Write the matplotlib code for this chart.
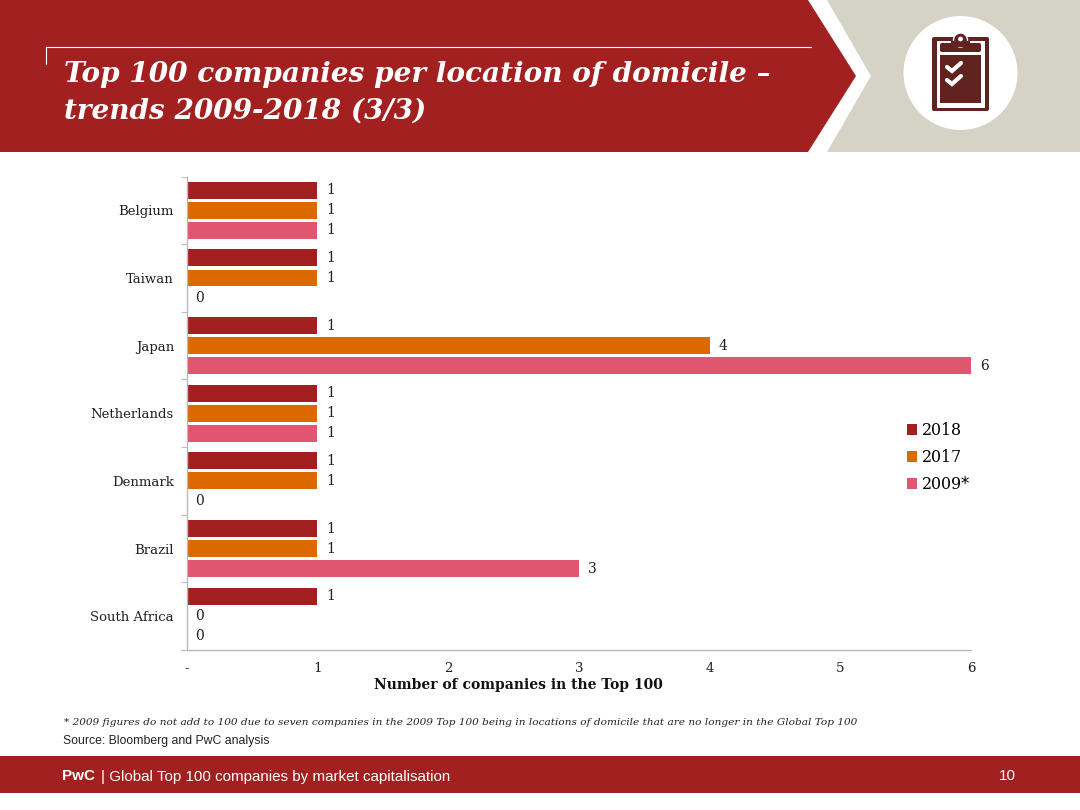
import numpy as np
import matplotlib
matplotlib.use('Agg')
import matplotlib.pyplot as plt
from matplotlib.patches import Polygon, Rectangle, Circle, FancyBboxPatch

# chart values
countries = ['Belgium', 'Taiwan', 'Japan', 'Netherlands', 'Denmark', 'Brazil', 'South Africa']
top100_2018 = [1, 1, 1, 1, 1, 1, 1]
top100_2017 = [1, 1, 4, 1, 1, 1, 0]
top100_2009 = [1, 0, 6, 1, 0, 3, 0]
series_names = ['2018', '2017', '2009*']
xtick_labels = ['-', '1', '2', '3', '4', '5', '6']

title_lines = ['Top 100 companies per location of domicile –', 'trends 2009-2018 (3/3)']
footnote = ('* 2009 figures do not add to 100 due to seven companies in the 2009 Top 100 '
            'being in locations of domicile that are no longer in the Global Top 100')
source = 'Source: Bloomberg and PwC analysis'

RED = '#A32020'
ORANGE = '#DC6900'
PINK = '#E0556F'
MAROON = '#602320'
BEIGE = '#D5D2C6'
SERIF = 'DejaVu Serif'
SANS = 'Liberation Sans'

W, H = 1080, 810
fig = plt.figure(figsize=(W / 100, H / 100), dpi=100)

# background layer in pixel coordinates for the slide furniture
bg = fig.add_axes([0, 0, 1, 1])
bg.set_xlim(0, W)
bg.set_ylim(H, 0)
bg.axis('off')

bg.add_patch(Polygon([(827, 0), (1080, 0), (1080, 152), (827, 152), (871, 76)], fc=BEIGE, ec='none'))
bg.add_patch(Polygon([(0, 0), (808, 0), (856, 76), (808, 152), (0, 152)], fc=RED, ec='none'))
bg.plot([46, 811], [47, 47], color='white', lw=0.8)
bg.plot([46, 46], [47, 64], color='white', lw=0.8)
bg.text(64, 75, title_lines[0], color='white', family=SERIF, style='italic', weight='bold',
        fontsize=20.05, va='center', ha='left')
bg.text(64, 111, title_lines[1], color='white', family=SERIF, style='italic', weight='bold',
        fontsize=20.05, va='center', ha='left')

# clipboard icon
bg.add_patch(Circle((960.5, 73), 57, fc='white', ec='none'))
bg.add_patch(FancyBboxPatch((932, 37), 57, 74, boxstyle='round,pad=0,rounding_size=2', fc=MAROON, ec='none'))
bg.add_patch(Rectangle((936.5, 41), 48, 66.5, fc='white', ec='none'))
bg.add_patch(Rectangle((940, 55), 41, 48, fc=MAROON, ec='none'))
bg.add_patch(FancyBboxPatch((940, 43), 41, 9, boxstyle='round,pad=0,rounding_size=2', fc=MAROON, ec='none'))
bg.add_patch(Circle((960.5, 40), 7, fc=MAROON, ec='white', lw=1))
bg.add_patch(Rectangle((951, 41), 19, 6, fc=MAROON, ec='none'))
bg.add_patch(Circle((960.5, 39), 2.4, fc='white', ec='none'))
for cy in (67, 80):
    bg.plot([947, 952, 961], [cy, cy + 4, cy - 4], color='white', lw=3, solid_capstyle='round',
            solid_joinstyle='miter')

# footer
bg.add_patch(Rectangle((0, 756), W, 37, fc=RED, ec='none'))
bg.text(62, 776.5, 'PwC', color='white', family=SANS, weight='bold', fontsize=11, va='center')
bg.text(101, 776.5, '| Global Top 100 companies by market capitalisation', color='white',
        family=SANS, fontsize=10.9, va='center')
bg.text(1016, 776.5, '10', color='white', family=SANS, fontsize=11, va='center', ha='right')
bg.text(64, 722.5, footnote, color='#222222', family=SERIF, style='italic', fontsize=7.54, va='center')
bg.text(63, 741, source, color='#222222', family=SANS, fontsize=8.8, va='center')

# chart
ax = fig.add_axes([186.5 / W, 1 - 650 / H, (971 - 186.5) / W, (650 - 176.5) / H])
ax.patch.set_alpha(0)
y = np.arange(len(countries))
step = 0.296
bar_h = 0.25
groups = [top100_2018, top100_2017, top100_2009]
colors = [RED, ORANGE, PINK]
for i in range(3):
    bars = ax.barh(y + (i - 1) * step, groups[i], height=bar_h, color=colors[i], label=series_names[i])
    ax.bar_label(bars, fmt='%d', padding=6.5, family=SERIF, fontsize=10, color='#222222')

ax.set_xlim(0, 6)
ax.set_ylim(len(countries) - 0.5, -0.5)
ax.set_yticks(y)
ax.set_yticklabels(countries, family=SERIF, fontsize=9.5, color='#222222')
ax.set_yticks(np.arange(len(countries) + 1) - 0.5, minor=True)
ax.tick_params(axis='y', which='major', length=0, pad=9)
ax.tick_params(axis='y', which='minor', length=4, width=0.8, color='#BBBBBB')
ax.set_xticks(range(7))
ax.set_xticklabels(xtick_labels, family=SERIF, fontsize=9.6, color='#222222')
ax.tick_params(axis='x', length=0, pad=9)
for side in ('top', 'right'):
    ax.spines[side].set_visible(False)
for side in ('left', 'bottom'):
    ax.spines[side].set_color('#BBBBBB')
    ax.spines[side].set_linewidth(1)

bg.text(518.5, 685.5, 'Number of companies in the Top 100', family=SERIF, weight='bold',
        fontsize=10, color='#111111', ha='center', va='center')

ax.legend(loc='upper left', bbox_to_anchor=(907 / W, 1 - 422 / H), bbox_transform=fig.transFigure,
          frameon=False, prop={'family': SERIF, 'size': 11.4}, handlelength=0.63, handleheight=0.63,
          handletextpad=0.3, labelspacing=0.63, borderpad=0, borderaxespad=0)

fig.savefig('out.png', dpi=100)
